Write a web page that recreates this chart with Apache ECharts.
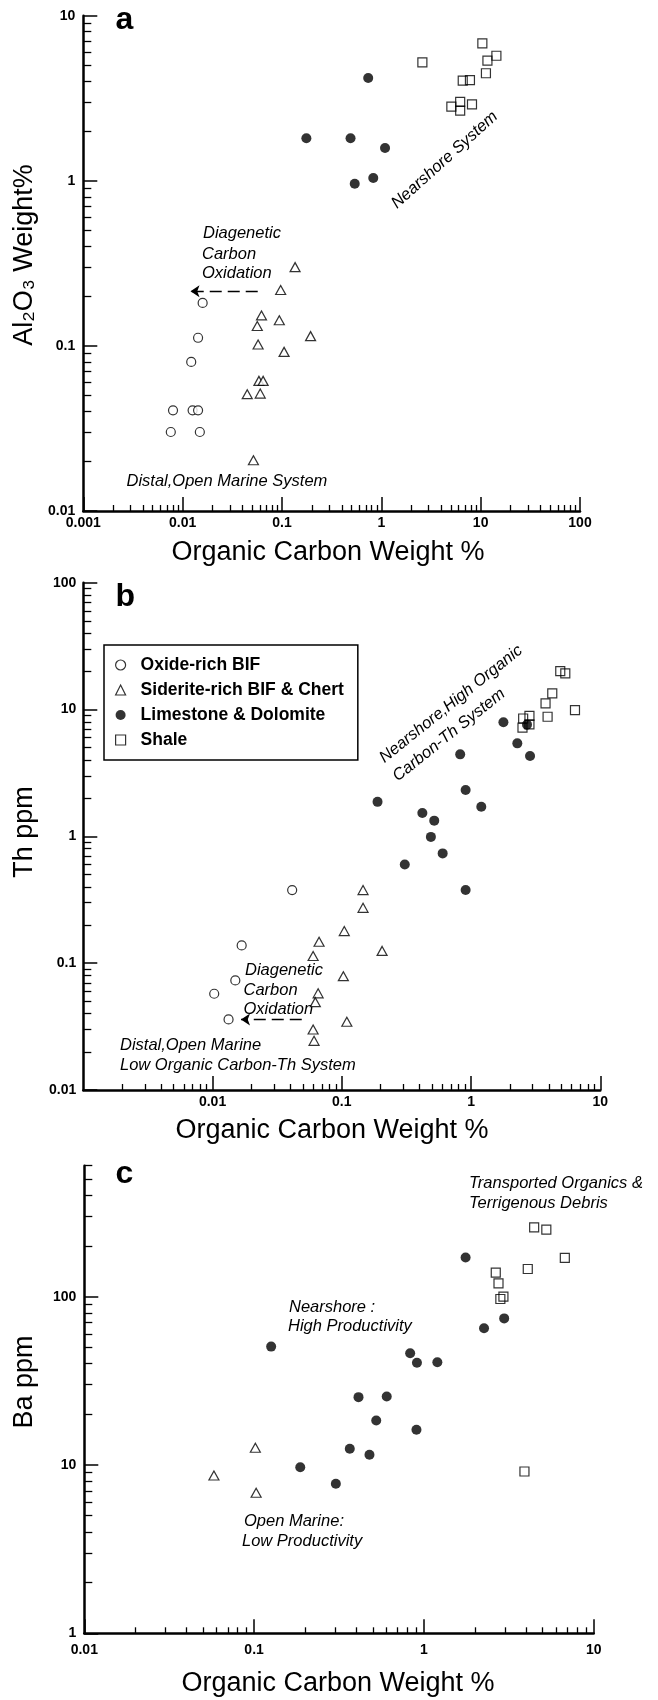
<!DOCTYPE html>
<html><head><meta charset="utf-8">
<script src="https://cdn.jsdelivr.net/npm/echarts@6/dist/echarts.min.js"></script>
<style>html,body{margin:0;padding:0;background:#fff}#c{width:658px;height:1700px}</style>
</head><body><div id="c"></div>
<script>
// ---------- DATA (Organic carbon wt%, element) ----------
// Panel a: Al2O3 wt%
const aOxide = [[0.0159,0.182],[0.0143,0.112],[0.0122,0.080],[0.0080,0.0407],[0.0126,0.0407],[0.0143,0.0407],[0.0076,0.0301],[0.0149,0.0301]];
const aSiderite = [[0.1355,0.30],[0.097,0.218],[0.0622,0.153],[0.094,0.143],[0.0564,0.132],[0.194,0.1146],[0.0575,0.102],[0.105,0.092],[0.0586,0.0614],[0.0646,0.0614],[0.0447,0.051],[0.0604,0.0514],[0.0516,0.0203]];
const aLime = [[0.738,4.19],[0.176,1.81],[0.49,1.81],[1.09,1.58],[0.54,0.96],[0.83,1.04]];
const aShale = [[2.59,5.22],[10.4,6.8],[14.4,5.72],[11.7,5.34],[11.3,4.48],[6.6,4.04],[7.8,4.07],[5.07,2.81],[6.22,3.01],[6.22,2.66],[8.18,2.9]];
const aArrow = [[0.057,0.2145],[0.0120,0.2145]];
// Panel b: Th ppm
const bOxide = [[0.0413,0.377],[0.0168,0.138],[0.0150,0.0731],[0.0103,0.0574],[0.0133,0.036]];
const bSiderite = [[0.146,0.377],[0.146,0.273],[0.1045,0.179],[0.0667,0.1476],[0.205,0.125],[0.060,0.1138],[0.1028,0.079],[0.0656,0.0578],[0.0624,0.0493],[0.1094,0.0345],[0.060,0.030],[0.061,0.0244]];
const bLime = [[1.78,7.93],[2.71,7.6],[2.28,5.41],[2.86,4.3],[0.824,4.43],[0.189,1.87],[0.908,2.32],[1.2,1.71],[0.42,1.53],[0.519,1.33],[0.489,0.99],[0.603,0.734],[0.307,0.60],[0.908,0.377]];
const bShale = [[4.90,20.1],[5.36,19.3],[4.25,13.4],[3.77,11.2],[6.37,9.9],[3.91,8.77],[2.83,8.9],[2.53,8.5],[2.83,7.64],[2.5,7.19]];
const bArrow = [[0.049,0.036],[0.0166,0.036]];
// Panel c: Ba ppm
const cSiderite = [[0.1017,12.65],[0.058,8.66],[0.1028,6.84]];
const cLime = [[1.76,171],[2.97,74.3],[2.26,64.9],[0.126,50.5],[0.83,46.1],[0.91,40.5],[1.2,40.8],[0.412,25.3],[0.604,25.5],[0.524,18.4],[0.904,16.2],[0.366,12.5],[0.478,11.5],[0.187,9.7],[0.303,7.73]];
const cShale = [[4.46,258],[5.26,250],[6.76,170],[4.09,146],[2.65,139],[2.75,120],[2.94,100],[2.82,96.9],[3.91,9.15]];

// ---------- TICKS ----------
const aXTicks = [0.001,0.01,0.1,1,10,100];
const aYTicks = [0.01,0.1,1,10];
const bXTicks = [0.01,0.1,1,10];
const bYTicks = [0.01,0.1,1,10,100];
const cXTicks = [0.01,0.1,1,10];
const cYTicks = [1,10,100];

const NAMES = ['Oxide-rich BIF','Siderite-rich BIF & Chert','Limestone & Dolomite','Shale'];
const FONT = '"Liberation Sans", Arial, Helvetica, sans-serif';

function minorTicks(min, max) {
  const out = [];
  for (let e = Math.floor(Math.log10(min)); e <= Math.ceil(Math.log10(max)); e++) {
    for (let k = 2; k <= 9; k++) {
      const v = +(k * Math.pow(10, e)).toPrecision(6);
      if (v > min && v <= max * 1.0001) out.push(v);
    }
  }
  return out;
}
function axisPair(isX, gi, min, max, major, labels, margin) {
  const base = {type:'log', logBase:10, min:min, max:max, gridIndex:gi,
    position: isX ? 'bottom' : 'left', splitLine:{show:false}};
  const main = Object.assign({}, base, {
    axisLine:{show:true, onZero:false, lineStyle:{color:'#000', width:2.5}},
    axisTick:{show:true, inside:true, length:14, lineStyle:{color:'#000', width:1.5}, customValues:major},
    axisLabel:{show:true, customValues:labels, formatter:v => String(v), color:'#000',
      fontSize:14, fontWeight:'bold', fontFamily:FONT, margin:margin}
  });
  const minor = Object.assign({}, base, {
    axisLine:{show:false},
    axisTick:{show:true, inside:true, length: isX ? 6 : 8, lineStyle:{color:'#000', width:1.3}, customValues:minorTicks(min, max)},
    axisLabel:{show:false}
  });
  return [main, minor];
}

const xAxis = [].concat(
  axisPair(true, 0, 0.001, 100, aXTicks, aXTicks, 5),
  axisPair(true, 1, 0.001, 10, bXTicks, bXTicks, 5),
  axisPair(true, 2, 0.01, 10, cXTicks, cXTicks, 10)
);
const yAxis = [].concat(
  axisPair(false, 0, 0.01, 10, aYTicks, aYTicks, 8),
  axisPair(false, 1, 0.01, 100, bYTicks, bYTicks, 7),
  axisPair(false, 2, 1, 600, cYTicks, cYTicks, 8)
);

const open = {color:'#fff', borderColor:'#000', borderWidth:1.2};
const STY = [
  {symbol:'circle', symbolSize:9, itemStyle:open},
  {symbol:'triangle', symbolSize:[10,9], itemStyle:open},
  {symbol:'circle', symbolSize:10, itemStyle:{color:'#000', borderWidth:0}},
  {symbol:'rect', symbolSize:9, itemStyle:{color:'rgba(0,0,0,0)', borderColor:'#000', borderWidth:1.2}}
];
function arrowLine(pts) {
  return {silent:true, symbol:['none','arrow'], symbolSize:9, label:{show:false},
    lineStyle:{color:'#000', width:1.3, type:[12,6], opacity:1},
    emphasis:{disabled:true}, data:[[{coord:pts[0]},{coord:pts[1]}]]};
}
const series = [];
function add(gi, ti, data, extra) {
  series.push(Object.assign({type:'scatter', name:NAMES[ti], xAxisIndex:gi*2, yAxisIndex:gi*2,
    data:data, symbol:STY[ti].symbol, symbolSize:STY[ti].symbolSize, itemStyle:STY[ti].itemStyle,
    emphasis:{disabled:true}, silent:true}, extra || {}));
}
add(0,0,aOxide); add(0,1,aSiderite,{markLine:arrowLine(aArrow)}); add(0,2,aLime); add(0,3,aShale);
add(1,0,bOxide); add(1,1,bSiderite,{markLine:arrowLine(bArrow)}); add(1,2,bLime); add(1,3,bShale);
add(2,1,cSiderite); add(2,2,cLime); add(2,3,cShale);

const IT = 'italic 16.5px ' + FONT;
function txt(text, x, y, o) {
  o = o || {};
  return {type:'text', x:x, y:y, rotation:o.rot || 0, silent:true,
    style:{text:text, fill:'#000', font:o.font || IT,
      align:o.align || 'left', verticalAlign:'middle',
      textAlign:o.align || 'left', textVerticalAlign:'middle'}};
}
const TITLE = '27px ' + FONT;
const LET = 'bold 32px ' + FONT;
const graphic = [
  // panel letters
  txt('a', 115.5, 20.6, {font:LET}),
  txt('b', 115.5, 597, {font:LET}),
  txt('c', 115.5, 1174, {font:LET}),
  // axis titles
  txt('Al\u2082O\u2083 Weight%', 25, 255, {font:TITLE, align:'center', rot:Math.PI/2}),
  txt('Th ppm', 25, 832, {font:TITLE, align:'center', rot:Math.PI/2}),
  txt('Ba ppm', 25, 1382, {font:TITLE, align:'center', rot:Math.PI/2}),
  txt('Organic Carbon Weight %', 328, 553, {font:TITLE, align:'center'}),
  txt('Organic Carbon Weight %', 332, 1131, {font:TITLE, align:'center'}),
  txt('Organic Carbon Weight %', 338, 1684, {font:TITLE, align:'center'}),
  // panel a notes
  txt('Diagenetic', 203, 233),
  txt('Carbon', 202, 254),
  txt('Oxidation', 202, 273.5),
  txt('Distal,Open Marine System', 126.5, 481.5),
  txt('Nearshore System', 444.7, 160, {align:'center', rot:0.733}),
  // panel b notes
  txt('Nearshore,High Organic', 451, 704, {align:'center', rot:0.675}),
  txt('Carbon-Th System', 449, 735, {align:'center', rot:0.675}),
  txt('Diagenetic', 245, 970),
  txt('Carbon', 243.5, 990),
  txt('Oxidation', 243.5, 1009.5),
  txt('Distal,Open Marine', 120, 1045.7),
  txt('Low Organic Carbon-Th System', 120, 1065.7),
  // panel c notes
  txt('Transported Organics &', 469, 1183.3),
  txt('Terrigenous Debris', 469, 1203.3),
  txt('Nearshore :', 289, 1307.7),
  txt('High Productivity', 288, 1326.7),
  txt('Open Marine:', 244, 1521),
  txt('Low Productivity', 242, 1541)
];

const option = {
  animation:false,
  backgroundColor:'#fff',
  grid:[
    {left:83.3, top:15.7, width:496.7, height:495.3, containLabel:false, outerBoundsMode:'none'},
    {left:83.3, top:582.7, width:517, height:507.3, containLabel:false, outerBoundsMode:'none'},
    {left:84.3, top:1165.7, width:509.4, height:467.6, containLabel:false, outerBoundsMode:'none'}
  ],
  xAxis:xAxis, yAxis:yAxis, series:series,
  legend:{
    orient:'vertical', left:104, top:645, padding:[10,14,10,11], itemGap:5,
    itemWidth:10, itemHeight:10, borderColor:'#000', borderWidth:1.5, selectedMode:false,
    textStyle:{fontSize:17.5, fontWeight:'bold', color:'#000', fontFamily:FONT, lineHeight:20, padding:[0,0,0,10]},
    data:[
      {name:NAMES[0], icon:'circle', itemStyle:open},
      {name:NAMES[1], icon:'triangle', itemStyle:open},
      {name:NAMES[2], icon:'circle', itemStyle:{color:'#000', borderWidth:0}},
      {name:NAMES[3], icon:'rect', itemStyle:{color:'#fff', borderColor:'#000', borderWidth:1.2}}
    ]
  },
  graphic:graphic
};
const chart = echarts.init(document.getElementById('c'), null, {renderer:'canvas', width:658, height:1700});
chart.setOption(option);
</script>
</body></html>
